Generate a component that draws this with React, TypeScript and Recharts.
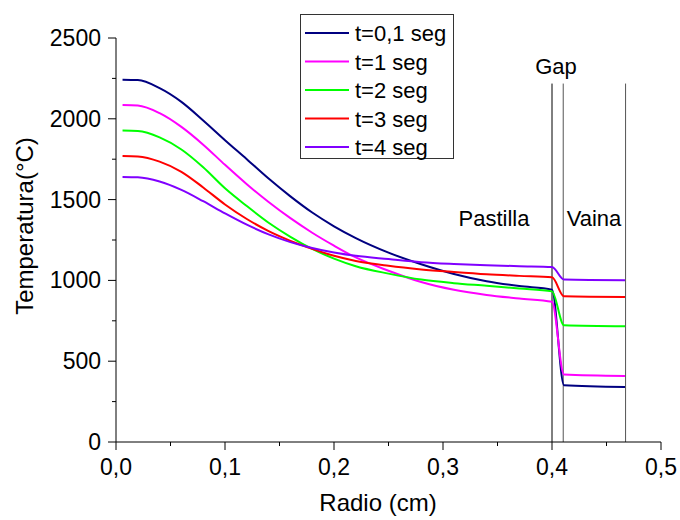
import { LineChart, Line, XAxis, YAxis, ReferenceLine } from 'recharts'

const radio = [0.006, 0.02, 0.04, 0.06, 0.08, 0.1, 0.12, 0.14, 0.16, 0.18, 0.2, 0.22, 0.25, 0.28, 0.31, 0.34, 0.37, 0.4, 0.411, 0.467]

const t01 = [2242, 2240, 2190, 2105, 1990, 1868, 1750, 1630, 1520, 1420, 1335, 1262, 1172, 1100, 1040, 995, 965, 943, 351, 340]
const t1 = [2085, 2082, 2035, 1950, 1840, 1715, 1595, 1485, 1385, 1295, 1215, 1142, 1060, 990, 942, 910, 888, 868, 417, 408]
const t2 = [1927, 1924, 1885, 1810, 1700, 1570, 1460, 1357, 1270, 1195, 1135, 1088, 1042, 1005, 983, 967, 950, 932, 722, 716]
const t3 = [1770, 1767, 1735, 1672, 1575, 1470, 1380, 1305, 1245, 1195, 1152, 1120, 1090, 1068, 1052, 1038, 1028, 1019, 902, 898]
const t4 = [1640, 1638, 1612, 1560, 1490, 1415, 1345, 1285, 1237, 1200, 1172, 1152, 1132, 1113, 1102, 1094, 1088, 1083, 1005, 1001]

const seriesNames = ['t=0,1 seg', 't=1 seg', 't=2 seg', 't=3 seg', 't=4 seg']
const seriesColors = ['#000080', '#ff00ff', '#00ff00', '#ff0000', '#8000ff']
const seriesKeys = ['t01', 't1', 't2', 't3', 't4']

const xTicks = [0, 0.05, 0.1, 0.15, 0.2, 0.25, 0.3, 0.35, 0.4, 0.45, 0.5]
const yTicks = [0, 250, 500, 750, 1000, 1250, 1500, 1750, 2000, 2250, 2500]

// zone borders: pastilla / gap / vaina
const borders = [0.4, 0.4103, 0.4675]
const borderTop = 2218

const data = radio.map((r, i) => ({ r, t01: t01[i], t1: t1[i], t2: t2[i], t3: t3[i], t4: t4[i] }))

const FONT = '"Liberation Sans", Arial, sans-serif'

function XTick({ x = 0, y = 0, payload }: any) {
  const v = payload.value as number
  const major = Math.round(v * 100) % 10 === 0
  return (
    <g>
      <line x1={x} x2={x} y1={y} y2={y + (major ? 8 : 4)} stroke="#000" strokeWidth={1} />
      {major && (
        <text x={x} y={y + 33} textAnchor="middle" fontSize={23} fontFamily={FONT} fill="#000">
          {v.toFixed(1).replace('.', ',')}
        </text>
      )}
    </g>
  )
}

function YTick({ x = 0, y = 0, payload }: any) {
  const v = payload.value as number
  const major = v % 500 === 0
  return (
    <g>
      <line x1={x - (major ? 8 : 4)} x2={x} y1={y} y2={y} stroke="#000" strokeWidth={1} />
      {major && (
        <text x={x - 15} y={y + 8} textAnchor="end" fontSize={23} fontFamily={FONT} fill="#000">
          {v}
        </text>
      )}
    </g>
  )
}

export default function App() {
  return (
    <div style={{ position: 'relative', width: 680, height: 520, background: '#fff' }}>
      <style>{'body{margin:0}'}</style>
      <LineChart width={680} height={520} data={data} margin={{ top: 38, right: 19, bottom: 0, left: 0 }}>
        <XAxis
          dataKey="r"
          type="number"
          domain={[0, 0.5]}
          ticks={xTicks}
          tick={<XTick />}
          tickLine={false}
          tickSize={0}
          tickMargin={0}
          height={78}
          axisLine={{ stroke: '#000', strokeWidth: 1 }}
          interval={0}
        />
        <YAxis
          type="number"
          domain={[0, 2500]}
          ticks={yTicks}
          tick={<YTick />}
          tickLine={false}
          tickSize={0}
          tickMargin={0}
          width={116}
          axisLine={{ stroke: '#000', strokeWidth: 1 }}
          interval={0}
        />
        {borders.map((b, i) => (
          <ReferenceLine
            key={b}
            segment={[{ x: b, y: 0 }, { x: b, y: borderTop }]}
            stroke={i === 0 ? '#000' : '#555'}
            strokeWidth={1}
          />
        ))}
        {seriesKeys.map((k, i) => (
          <Line
            key={k}
            dataKey={k}
            type="monotone"
            stroke={seriesColors[i]}
            strokeWidth={2}
            dot={false}
            isAnimationActive={false}
          />
        ))}
      </LineChart>
      <svg width={680} height={520} style={{ position: 'absolute', left: 0, top: 0, pointerEvents: 'none' }}>
        <text x={378} y={511} textAnchor="middle" fontSize={24} fontFamily={FONT} fill="#000">Radio (cm)</text>
        <text x={33} y={226} transform="rotate(-90 33 226)" textAnchor="middle" fontSize={24} fontFamily={FONT} fill="#000">
          Temperatura(°C)
        </text>
        <text x={556} y={74} textAnchor="middle" fontSize={22} fontFamily={FONT} fill="#000">Gap</text>
        <text x={494} y={226} textAnchor="middle" fontSize={22} fontFamily={FONT} fill="#000">Pastilla</text>
        <text x={594} y={226} textAnchor="middle" fontSize={22} fontFamily={FONT} fill="#000">Vaina</text>
        <rect x={300.5} y={14.5} width={153} height={144} fill="#fff" stroke="#333" strokeWidth={1} />
        {seriesNames.map((n, i) => (
          <g key={n}>
            <line x1={305} x2={349} y1={33 + i * 28.5} y2={33 + i * 28.5} stroke={seriesColors[i]} strokeWidth={2} />
            <text x={355} y={33 + i * 28.5 + 8} fontSize={22} fontFamily={FONT} fill="#000">{n}</text>
          </g>
        ))}
      </svg>
    </div>
  )
}
